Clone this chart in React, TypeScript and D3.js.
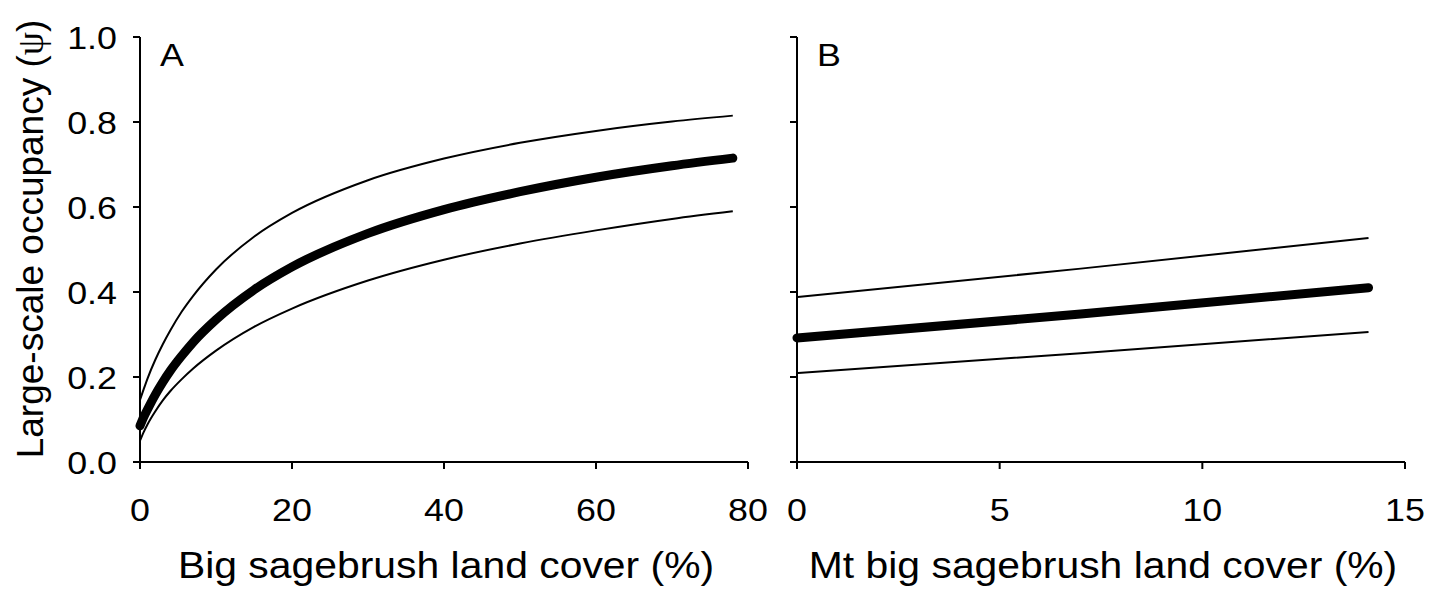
import * as d3 from "d3";

// Panel A: big sagebrush land cover (%)
const coverA = [0, 0.5, 1, 2, 3, 4, 5.5, 7, 10, 15, 20, 30, 40, 50, 60, 70, 78];
const meanA = [0.085, 0.106, 0.124, 0.158, 0.188, 0.215, 0.25, 0.282, 0.335, 0.405, 0.459, 0.538, 0.594, 0.636, 0.67, 0.697, 0.715];
const upperA = [0.146, 0.172, 0.197, 0.24, 0.277, 0.31, 0.354, 0.391, 0.453, 0.53, 0.586, 0.663, 0.714, 0.751, 0.779, 0.801, 0.815];
const lowerA = [0.05, 0.071, 0.089, 0.119, 0.145, 0.167, 0.195, 0.22, 0.262, 0.318, 0.361, 0.427, 0.476, 0.514, 0.545, 0.572, 0.59];

// Panel B: Mt big sagebrush land cover (%)
const coverB = [0, 7, 14.1];
const meanB = [0.292, 0.348, 0.41];
const upperB = [0.388, 0.455, 0.527];
const lowerB = [0.209, 0.256, 0.306];

const yTicks = [0, 0.2, 0.4, 0.6, 0.8, 1.0];
const xTicksA = [0, 20, 40, 60, 80];
const xTicksB = [0, 5, 10, 15];

const W = 1444;
const H = 590;
const FONT = "'Liberation Sans', Arial, sans-serif";
const STRETCH = 1.12; // glyphs in the source are a bit wider than tall

const y = d3.scaleLinear().domain([0, 1]).range([462, 37]);

function Label({
  x,
  y,
  size,
  anchor = "start",
  dy,
  children,
}: {
  x: number;
  y: number;
  size: number;
  anchor?: "start" | "middle" | "end";
  dy?: string;
  children: React.ReactNode;
}) {
  return (
    <text
      transform={`translate(${x},${y}) scale(${STRETCH},1)`}
      textAnchor={anchor}
      dy={dy}
      fontSize={size}
      fontFamily={FONT}
      fill="#000"
    >
      {children}
    </text>
  );
}

type PanelProps = {
  xs: number[];
  mean: number[];
  upper: number[];
  lower: number[];
  domain: [number, number];
  range: [number, number];
  ticks: number[];
  yLabels: boolean;
  letter: string;
  title: string;
};

function Panel({ xs, mean, upper, lower, domain, range, ticks, yLabels, letter, title }: PanelProps) {
  const x = d3.scaleLinear().domain(domain).range(range);
  const line = (vals: number[]) =>
    d3
      .line<number>()
      .x((_, i) => x(xs[i]))
      .y((v) => y(v))
      .curve(d3.curveMonotoneX)(vals) ?? "";
  const x0 = range[0];
  const base = y(0);

  return (
    <g>
      {/* axes */}
      <line x1={x0} x2={x0} y1={y(1)} y2={base} stroke="#000" strokeWidth={2} />
      <line x1={x0} x2={range[1]} y1={base} y2={base} stroke="#000" strokeWidth={2} />
      {yTicks.map((t) => (
        <g key={`y${t}`}>
          <line x1={x0 - 7} x2={x0} y1={y(t)} y2={y(t)} stroke="#000" strokeWidth={2} />
          {yLabels ? (
            <Label x={x0 - 23} y={y(t)} dy="0.36em" anchor="end" size={32}>
              {t.toFixed(1)}
            </Label>
          ) : null}
        </g>
      ))}
      {ticks.map((t) => (
        <g key={`x${t}`}>
          <line x1={x(t)} x2={x(t)} y1={base} y2={base + 7} stroke="#000" strokeWidth={2} />
          <Label x={x(t)} y={521} anchor="middle" size={32}>
            {t}
          </Label>
        </g>
      ))}

      {/* fitted curve and 95% bounds */}
      <path d={line(upper)} fill="none" stroke="#000" strokeWidth={2} />
      <path d={line(lower)} fill="none" stroke="#000" strokeWidth={2} />
      <path d={line(mean)} fill="none" stroke="#000" strokeWidth={9} strokeLinecap="round" />

      <Label x={x0 + 20} y={66} size={32}>
        {letter}
      </Label>
      <Label x={(range[0] + range[1]) / 2 + 2} y={578} anchor="middle" size={36.5}>
        {title}
      </Label>
    </g>
  );
}

export default function App() {
  return (
    <svg width={W} height={H} style={{ position: "absolute", left: 0, top: 0, background: "#fff" }}>
      <Panel
        xs={coverA}
        mean={meanA}
        upper={upperA}
        lower={lowerA}
        domain={[0, 80]}
        range={[140, 748]}
        ticks={xTicksA}
        yLabels={true}
        letter="A"
        title="Big sagebrush land cover (%)"
      />
      <Panel
        xs={coverB}
        mean={meanB}
        upper={upperB}
        lower={lowerB}
        domain={[0, 15]}
        range={[797, 1405]}
        ticks={xTicksB}
        yLabels={false}
        letter="B"
        title="Mt big sagebrush land cover (%)"
      />
      <text
        transform={`translate(43,239) rotate(-90)`}
        textAnchor="middle"
        fontSize={37}
        fontFamily={FONT}
      >
        Large-scale occupancy (
        <tspan fontFamily="'Liberation Serif', serif">ψ</tspan>)
      </text>
    </svg>
  );
}
